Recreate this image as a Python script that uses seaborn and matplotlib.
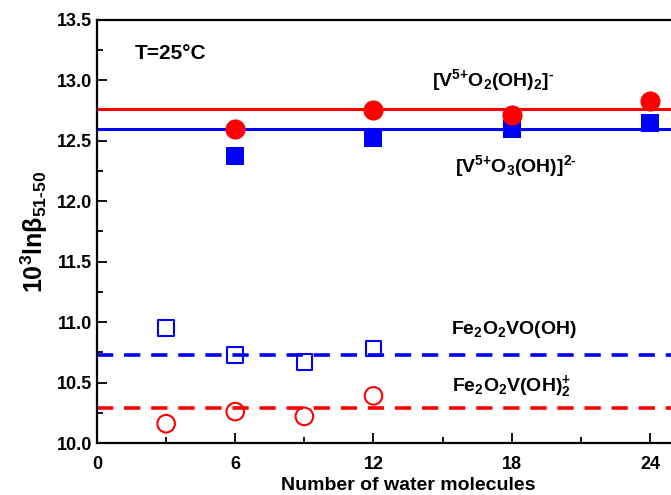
import numpy as np
import pandas as pd
import seaborn as sns
import matplotlib.pyplot as plt
from matplotlib.ticker import MultipleLocator

# data
n_water_v5 = [6, 12, 18, 24]
v5_o2oh2 = [12.60, 12.75, 12.71, 12.83]   # red filled circles
v5_o3oh = [12.37, 12.52, 12.60, 12.65]    # blue filled squares
n_water_fe = [3, 6, 9, 12]
fe_vooh = [10.95, 10.73, 10.67, 10.78]     # blue open squares
fe_voh2 = [10.16, 10.26, 10.22, 10.39]     # red open circles
mean_lines = {'v5_o2oh2': 12.76, 'v5_o3oh': 12.60, 'fe_vooh': 10.73, 'fe_voh2': 10.29}

df_v5 = pd.DataFrame({'n': n_water_v5, 'o2oh2': v5_o2oh2, 'o3oh': v5_o3oh})
df_fe = pd.DataFrame({'n': n_water_fe, 'vooh': fe_vooh, 'voh2': fe_voh2})

sns.set_style('ticks')
plt.rcParams['font.family'] = ['Liberation Sans', 'DejaVu Sans']
plt.rcParams['font.weight'] = 'bold'
plt.rcParams['mathtext.fontset'] = 'custom'
plt.rcParams['mathtext.rm'] = 'Liberation Sans:bold'
plt.rcParams['mathtext.it'] = 'Liberation Sans:bold'
plt.rcParams['mathtext.bf'] = 'Liberation Sans:bold'
plt.rcParams['mathtext.default'] = 'rm'
plt.rcParams['text.color'] = 'black'
plt.rcParams['axes.labelcolor'] = 'black'
plt.rcParams['axes.edgecolor'] = 'black'
plt.rcParams['xtick.color'] = 'black'
plt.rcParams['ytick.color'] = 'black'

fig = plt.figure(figsize=(6.71, 4.95), dpi=100)
ax = fig.add_axes([0.1446, 0.105, 0.927, 0.855])

red = '#ff0000'
blue = '#0000ff'

# mean lines
ax.axhline(mean_lines['v5_o2oh2'], color=red, lw=2.2, zorder=1)
ax.axhline(mean_lines['v5_o3oh'], color=blue, lw=2.2, zorder=1)
ax.axhline(mean_lines['fe_vooh'], color=blue, lw=2.6, dashes=(4.5, 3.0), zorder=1)
ax.axhline(mean_lines['fe_voh2'], color=red, lw=2.6, dashes=(4.5, 3.0), zorder=1)

sns.scatterplot(data=df_v5, x='n', y='o3oh', marker='s', s=160, color=blue,
                edgecolor=blue, linewidth=0, ax=ax, zorder=2)
sns.scatterplot(data=df_v5, x='n', y='o2oh2', marker='o', s=210, color=red,
                edgecolor=red, linewidth=0, ax=ax, zorder=3)
sns.scatterplot(data=df_fe, x='n', y='vooh', marker='s', s=125, facecolor='none',
                edgecolor=blue, linewidth=1.5, ax=ax, zorder=3)
sns.scatterplot(data=df_fe, x='n', y='voh2', marker='o', s=160, facecolor='none',
                edgecolor=red, linewidth=1.5, ax=ax, zorder=3)

ax.set_xlim(0, 27)
ax.set_ylim(10.0, 13.5)
ax.xaxis.set_major_locator(MultipleLocator(6))
ax.xaxis.set_minor_locator(MultipleLocator(3))
ax.yaxis.set_major_locator(MultipleLocator(0.5))
ax.yaxis.set_minor_locator(MultipleLocator(0.25))
ax.yaxis.set_major_formatter(plt.FormatStrFormatter('%.1f'))
ax.tick_params(which='both', direction='in', width=1.3, labelsize=13)
ax.tick_params(which='major', length=7)
ax.tick_params(which='minor', length=4)
ax.tick_params(axis='x', pad=9)
for sp in ax.spines.values():
    sp.set_linewidth(1.6)

ax.set_xlabel('Number of water molecules', fontsize=14, fontweight='bold', labelpad=3)
ax.set_ylabel(r'$10^{3}ln\beta_{51\text{-}50}$', fontsize=18, labelpad=5)

ax.text(3.2, 13.22, 'T=25°C', fontsize=15, ha='center', va='center')
ax.text(17.2, 13.0, r'$[V^{5\text{+}}O_{2}(OH)_{2}]^{\text{-}}$', fontsize=14, ha='center', va='center')
ax.text(18.2, 12.29, r'$[V^{5\text{+}}O_{3}(OH)]^{2\text{-}}$', fontsize=14, ha='center', va='center')
ax.text(18.1, 10.94, r'$Fe_{2}O_{2}VO(OH)$', fontsize=14, ha='center', va='center')
ax.text(18.0, 10.47, r'$Fe_{2}O_{2}V(OH)_{2}^{\text{+}}$', fontsize=14, ha='center', va='center')

fig.savefig('out.png', dpi=100)
